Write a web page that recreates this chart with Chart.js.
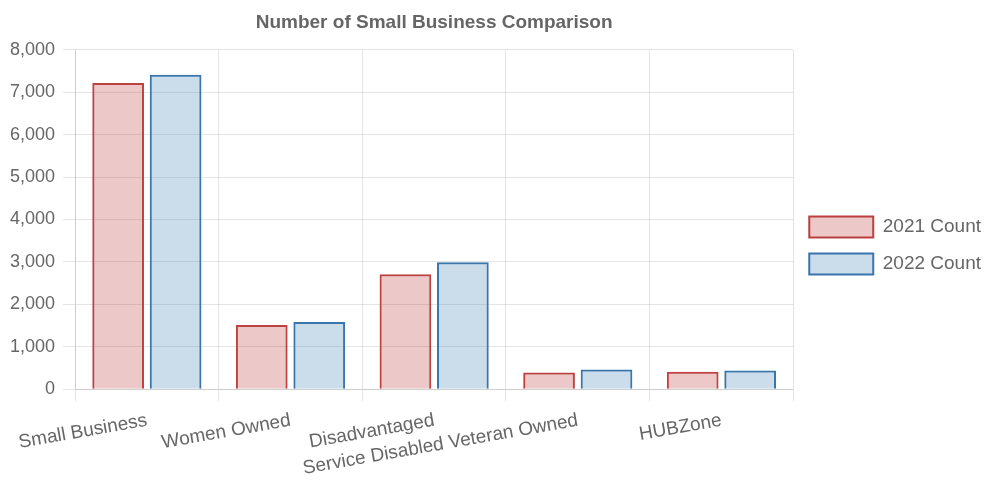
<!DOCTYPE html>
<html>
<head>
<meta charset="utf-8">
<script src="https://cdn.jsdelivr.net/npm/chart.js@4"></script>
<style>
  body { margin: 0; background: #fff; }
  #wrap { width: 986px; height: 483px; }
</style>
</head>
<body>
<div id="wrap"><canvas id="chart"></canvas></div>
<script>
// datos
const categorias = ["Small Business", "Women Owned", "Disadvantaged", "Service Disabled Veteran Owned", "HUBZone"];
const count2021 = [7220, 1510, 2710, 390, 410];
const count2022 = [7410, 1580, 2990, 460, 440];
const yTicks = [0, 1000, 2000, 3000, 4000, 5000, 6000, 7000, 8000];

Chart.defaults.font.family = "'Liberation Sans', Arial, sans-serif";
Chart.defaults.color = "#666";

new Chart(document.getElementById("chart"), {
  type: "bar",
  data: {
    labels: categorias,
    datasets: [
      {
        label: "2021 Count",
        data: count2021,
        backgroundColor: "rgba(178,34,34,0.25)",
        borderColor: "rgba(178,34,34,0.85)",
        borderWidth: 2,
      },
      {
        label: "2022 Count",
        data: count2022,
        backgroundColor: "rgba(70,130,180,0.28)",
        borderColor: "rgba(46,111,167,0.95)",
        borderWidth: 2,
      },
    ],
  },
  options: {
    responsive: true,
    maintainAspectRatio: false,
    animation: false,
    layout: { padding: { left: 2, right: -5, top: 3, bottom: -5 } },
    plugins: {
      title: {
        display: true,
        fullSize: false,
        text: "Number of Small Business Comparison",
        font: { size: 19, weight: "bold" },
        color: "#666",
        padding: { top: 8, bottom: 16 },
      },
      legend: {
        position: "right",
        labels: { boxWidth: 64, boxHeight: 21, font: { size: 19 }, padding: 16 },
      },
    },
    scales: {
      x: {
        grid: { color: "rgba(0,0,0,0.1)", tickLength: 12 },
        ticks: { font: { size: 19 }, autoSkip: false, minRotation: 10, maxRotation: 10, padding: 8 },
      },
      y: {
        min: 0,
        max: 8000,
        afterBuildTicks: (axis) => {
          axis.ticks = yTicks.map((v) => ({ value: v }));
        },
        grid: { color: "rgba(0,0,0,0.1)", tickLength: 12 },
        ticks: { font: { size: 18 }, padding: 8 },
      },
    },
  },
});
</script>
</body>
</html>
